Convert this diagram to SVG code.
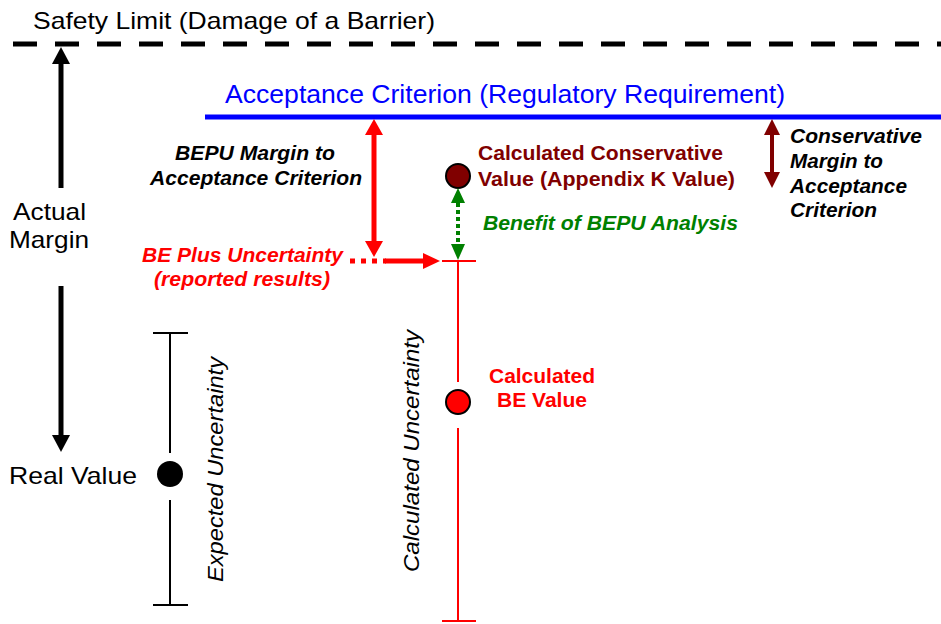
<svg xmlns="http://www.w3.org/2000/svg" width="941" height="624" viewBox="0 0 941 624">
<style>
text{font-family:"Liberation Sans",Arial,sans-serif}
.reg{font-size:24px;fill:#000}
.bi{font-size:20px;font-weight:bold;font-style:italic}
.b{font-size:20px;font-weight:bold}
.it{font-size:22px;font-style:italic;fill:#000}
.blk{stroke:#000;stroke-width:2;fill:none}
.red{stroke:#FF0000;stroke-width:2;fill:none}
</style>
<rect width="941" height="624" fill="#fff"/>
<g id="safety-limit">
<line x1="13" y1="44" x2="941" y2="44" stroke="#000" stroke-width="5" stroke-dasharray="24 18"/>
<text class="reg" x="33" y="29" textLength="402" lengthAdjust="spacingAndGlyphs">Safety Limit (Damage of a Barrier)</text>
</g>
<g id="acceptance-criterion">
<line x1="205" y1="117" x2="941" y2="117" stroke="#0000FF" stroke-width="5"/>
<text x="225" y="103" style="font-size:25.5px" fill="#0000FF" textLength="560" lengthAdjust="spacingAndGlyphs">Acceptance Criterion (Regulatory Requirement)</text>
</g>
<g id="actual-margin">
<text class="reg" x="13" y="220" textLength="73" lengthAdjust="spacingAndGlyphs">Actual</text>
<text class="reg" x="9" y="248" textLength="80" lengthAdjust="spacingAndGlyphs">Margin</text>
</g>
<g id="real-value">
<text class="reg" x="9" y="484" textLength="128" lengthAdjust="spacingAndGlyphs">Real Value</text>
<circle cx="170" cy="474" r="13" fill="#000"/>
</g>
<g id="expected-uncertainty">
<line class="blk" x1="153" y1="333" x2="188" y2="333"/>
<line class="blk" x1="170" y1="333" x2="170" y2="453"/>
<line class="blk" x1="170" y1="500" x2="170" y2="605"/>
<line class="blk" x1="153" y1="605" x2="188" y2="605"/>
<text class="it" transform="translate(223,582) rotate(-90)" textLength="225" lengthAdjust="spacingAndGlyphs">Expected Uncertainty</text>
</g>
<g id="calculated-be-value">
<line class="red" x1="442" y1="261" x2="476" y2="261"/>
<line class="red" x1="458" y1="261" x2="458" y2="382"/>
<line class="red" x1="458" y1="428" x2="458" y2="621"/>
<line class="red" x1="442" y1="621" x2="476" y2="621"/>
<circle cx="458" cy="402" r="12" fill="#FF0000" stroke="#000" stroke-width="2"/>
<text class="b" x="489" y="383" fill="#FF0000" textLength="106" lengthAdjust="spacingAndGlyphs">Calculated</text>
<text class="b" x="497" y="407" fill="#FF0000" textLength="90" lengthAdjust="spacingAndGlyphs">BE Value</text>
<text class="it" transform="translate(419,572) rotate(-90)" textLength="242" lengthAdjust="spacingAndGlyphs">Calculated Uncertainty</text>
</g>
<g id="conservative-value">
<circle cx="458" cy="176" r="12" fill="#800000" stroke="#000" stroke-width="2"/>
<text class="b" x="478" y="160" fill="#800000" textLength="245" lengthAdjust="spacingAndGlyphs">Calculated Conservative</text>
<text class="b" x="478" y="186" fill="#800000" textLength="257" lengthAdjust="spacingAndGlyphs">Value (Appendix K Value)</text>
</g>
<g id="bepu-margin-label">
<text class="bi" x="175" y="160" fill="#000" textLength="160" lengthAdjust="spacingAndGlyphs">BEPU Margin to</text>
<text class="bi" x="150" y="185" fill="#000" textLength="212" lengthAdjust="spacingAndGlyphs">Acceptance Criterion</text>
</g>
<g id="be-plus-uncertainty">
<text class="bi" x="142" y="262" fill="#FF0000" textLength="201" lengthAdjust="spacingAndGlyphs">BE Plus Uncertainty</text>
<text class="bi" x="154" y="286" fill="#FF0000" textLength="176" lengthAdjust="spacingAndGlyphs">(reported results)</text>
</g>
<g id="benefit-label">
<text class="bi" x="483" y="230" fill="#008000" textLength="255" lengthAdjust="spacingAndGlyphs">Benefit of BEPU Analysis</text>
</g>
<g id="conservative-margin-label">
<text class="bi" x="790" y="143" fill="#000" textLength="132" lengthAdjust="spacingAndGlyphs">Conservative</text>
<text class="bi" x="790" y="168" fill="#000" textLength="93" lengthAdjust="spacingAndGlyphs">Margin to</text>
<text class="bi" x="790" y="193" fill="#000" textLength="117" lengthAdjust="spacingAndGlyphs">Acceptance</text>
<text class="bi" x="790" y="217" fill="#000" textLength="87" lengthAdjust="spacingAndGlyphs">Criterion</text>
</g>
<g id="connectors">
<line x1="61" y1="62" x2="61" y2="188" stroke="#000" stroke-width="5"/>
<polygon points="61,47 52,64 70,64" fill="#000"/>
<line x1="61" y1="286" x2="61" y2="437" stroke="#000" stroke-width="5"/>
<polygon points="61,452 52,435 70,435" fill="#000"/>
<line x1="374" y1="133" x2="374" y2="243" stroke="#FF0000" stroke-width="5"/>
<polygon points="374,119 365,135 383,135" fill="#FF0000"/>
<polygon points="374,257 365,241 383,241" fill="#FF0000"/>
<line x1="350" y1="261" x2="386" y2="261" stroke="#FF0000" stroke-width="5" stroke-dasharray="5 6"/>
<line x1="385" y1="261" x2="425" y2="261" stroke="#FF0000" stroke-width="5"/>
<polygon points="440,261 423,253 423,269" fill="#FF0000"/>
<line x1="458" y1="203" x2="458" y2="245" stroke="#008000" stroke-width="4" stroke-dasharray="4 3"/>
<polygon points="458,188 451,203 465,203" fill="#008000"/>
<polygon points="458,260 451,244 465,244" fill="#008000"/>
<line x1="772" y1="133" x2="772" y2="174" stroke="#800000" stroke-width="4"/>
<polygon points="772,119 764,135 780,135" fill="#800000"/>
<polygon points="772,188 764,172 780,172" fill="#800000"/>
</g>
</svg>
